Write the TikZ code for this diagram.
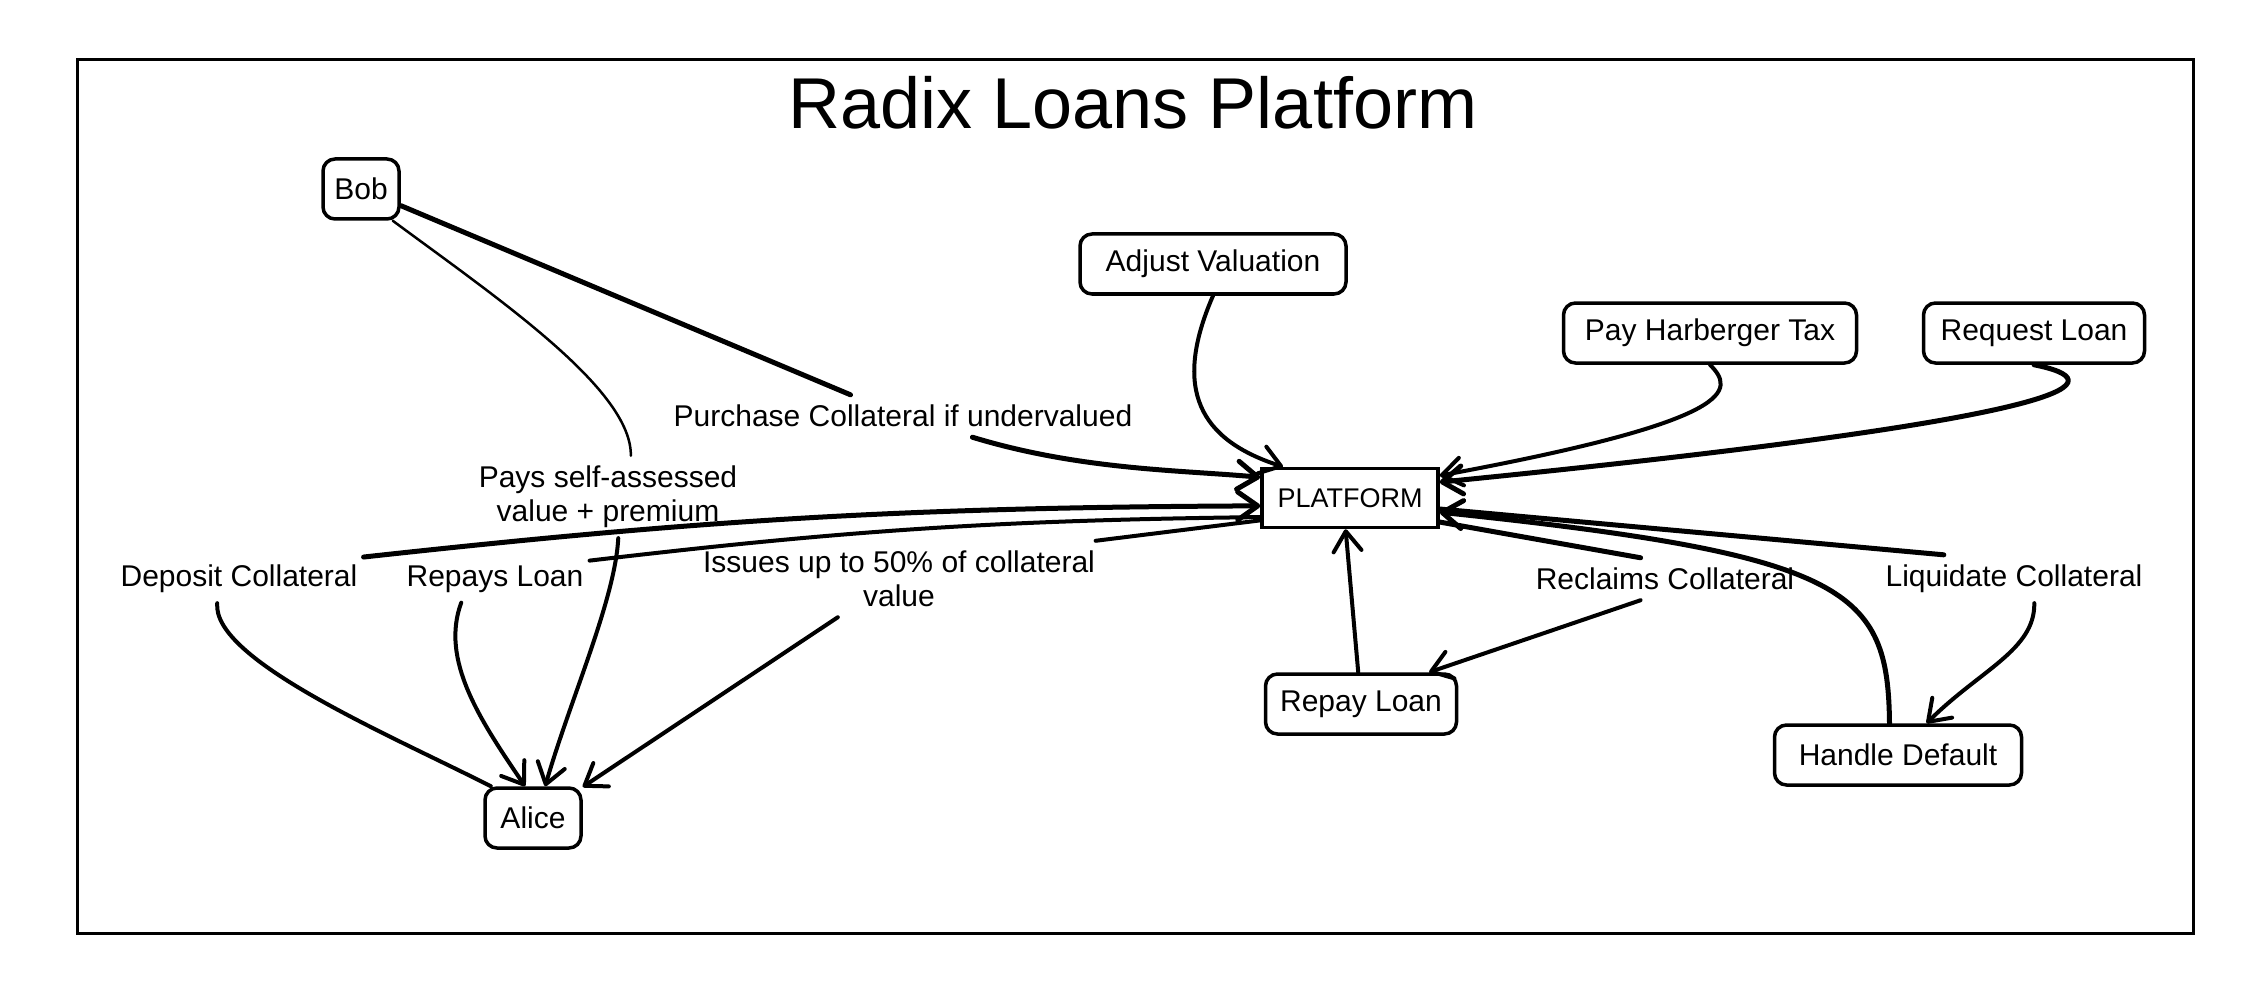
\documentclass[tikz,border=0pt]{standalone}
\usepackage{fontspec}
\setmainfont{Liberation Sans}
\usetikzlibrary{arrows.meta}
\tikzset{
  box/.style={draw, line width=3.5pt, rounded corners=12pt, minimum height=60pt, inner sep=0pt, font=\fontsize{30}{34}\selectfont},
  sharpbox/.style={draw, line width=3.5pt, minimum height=59pt, inner sep=0pt, font=\fontsize{27}{32}\selectfont},
  lab/.style={font=\fontsize{30}{34}\selectfont, inner xsep=6pt, inner ysep=10pt, align=center},
  conn/.style={line width=4pt, line cap=round, line join=round},
  thickconn/.style={line width=5pt, line cap=round, line join=round},
  thinconn/.style={line width=2.5pt, line cap=round},
  arr/.style={-{Straight Barb[length=20pt, width=28pt, round]}},
}
\begin{document}
\begin{tikzpicture}[x=1pt, y=-1pt]
\useasboundingbox (0,0) rectangle (2248,1000);
\node[draw, line width=3pt, minimum width=2116pt, minimum height=873pt, inner sep=0pt] (frame) at (1135,496.5) {};
\node[font=\fontsize{72}{80}\selectfont, anchor=base] (title) at (1133,129) {Radix Loans Platform};

% boxes
\node[box, minimum width=76pt] (bob) at (361,189) {Bob};
\node[box, minimum width=266pt] (adj) at (1213,264) {Adjust Valuation};
\node[box, minimum width=293pt] (harb) at (1710,333) {Pay Harberger Tax};
\node[box, minimum width=221pt] (req) at (2034,333) {Request Loan};
\node[sharpbox, minimum width=176pt] (plat) at (1350,498) {PLATFORM};
\node[box, minimum width=191pt] (repay) at (1361,704) {Repay Loan};
\node[box, minimum width=247pt] (hd) at (1898,755) {Handle Default};
\node[box, minimum width=96pt] (alice) at (533,818) {Alice};

% labels
\node[lab] (lpur) at (903,416) {Purchase Collateral if undervalued};
\node[lab] (lpay) at (608,497) {Pays self-assessed\\value + premium};
\node[lab] (ldep) at (239,579) {Deposit Collateral};
\node[lab] (lrep) at (495,579) {Repays Loan};
\node[lab] (liss) at (899,579) {Issues up to 50\% of collateral\\value};
\node[lab] (lrec) at (1665,579) {Reclaims Collateral};
\node[lab] (lliq) at (2014,579) {Liquidate Collateral};

% connectors
\draw[thickconn] (bob) -- (lpur.158);
\draw[thickconn, arr] (lpur.343) .. controls (1080,470) and (1180,470) .. (plat.167);
\draw[thinconn] (bob.315) .. controls (500,300) and (632,390) .. (lpay.61);
\draw[conn, arr] (lpay.284) .. controls (615,600) and (570,700) .. (alice.69);
\draw[thickconn, arr] (ldep.10) to[bend left=3] (plat.185);
\draw[conn] (ldep.228) .. controls (212,660) and (390,735) .. (alice.143);
\draw[conn] (plat.192) to[bend right=3] (lrep.11);
\draw[conn, arr] (lrep.215) .. controls (440,660) and (480,720) .. (alice.104);
\draw[conn] (plat.194) -- (liss.11);
\draw[conn, arr] (liss.212) -- (alice.32);
\draw[conn, arr] (adj.south) .. controls (1172,390) and (1200,440) .. (plat.155);
\draw[conn, arr] (harb.south) .. controls (1735,390) and (1740,420) .. (plat.14);
\draw[thickconn, arr] (req.south) .. controls (2110,380) and (2115,415) .. (plat.10);
\draw[conn, arr] (repay.95) -- (plat.262);
\draw[thickconn] (plat.345) -- (lrec.139);
\draw[conn, arr] (lrec.221) -- (repay.25);
\draw[thickconn] (plat.353) -- (lliq.161);
\draw[conn, arr] (lliq.310) .. controls (2035,650) and (1980,670) .. (hd.48);
\draw[thickconn, arr] (hd.105) .. controls (1888,590) and (1850,555) .. (plat.351);
\end{tikzpicture}
\end{document}
